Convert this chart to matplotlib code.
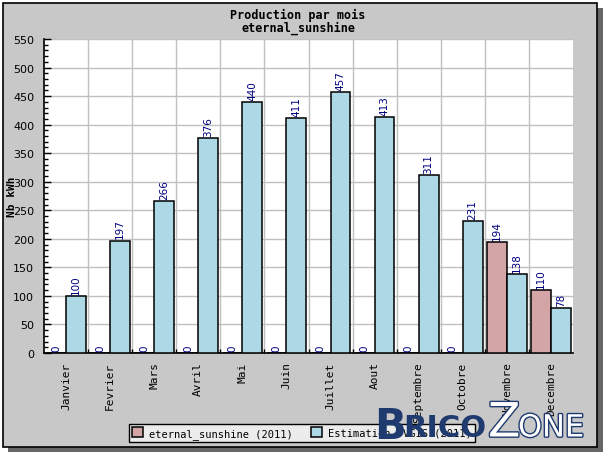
import matplotlib
matplotlib.use("Agg")
import matplotlib.pyplot as plt
import matplotlib.patheffects as pe
from matplotlib.patches import Rectangle
import numpy as np

months = ['Janvier', 'Fevrier', 'Mars', 'Avril', 'Mai', 'Juin', 'Juillet',
          'Aout', 'Septembre', 'Octobre', 'Novembre', 'Decembre']
prod_2011 = [0, 0, 0, 0, 0, 0, 0, 0, 0, 0, 194, 110]
estimation = [100, 197, 266, 376, 440, 411, 457, 413, 311, 231, 138, 78]

W, H = 606, 460
mono = 'DejaVu Sans Mono'


def fx(x):
    return x / W


def fy(y):
    return 1 - y / H


fig = plt.figure(figsize=(W / 100, H / 100), dpi=100, facecolor='white')

# shadow + grey panel
fig.patches.append(Rectangle((fx(8), fy(453)), fx(603) - fx(8), fy(9) - fy(453),
                             transform=fig.transFigure, facecolor='#666666',
                             edgecolor='none', zorder=-2))
fig.patches.append(Rectangle((fx(3), fy(448)), fx(597) - fx(3), fy(4) - fy(448),
                             transform=fig.transFigure, facecolor='#c8c8c8',
                             edgecolor='black', linewidth=1.2, zorder=-1))

ax = fig.add_axes([fx(44), fy(354), fx(573) - fx(44), fy(40) - fy(354)])
ax.set_zorder(1)
ax.set_facecolor('white')

x = np.arange(len(months))
bw = 0.45
b1 = ax.bar(x - bw / 2, prod_2011, bw, color='#d4a5a6', edgecolor='black',
            linewidth=1.1, zorder=3, label='eternal_sunshine (2011)')
b2 = ax.bar(x + bw / 2, estimation, bw, color='#add8e6', edgecolor='black',
            linewidth=1.1, zorder=3, label='Estimation PVGIS (2011)')

for xi, v in zip(x - bw / 2, prod_2011):
    ax.text(xi, v + 4, str(v), rotation=90, ha='center', va='bottom',
            color='#000080', fontsize=7.5, family='DejaVu Sans', zorder=4)
for xi, v in zip(x + bw / 2, estimation):
    ax.text(xi, v + 4, str(v), rotation=90, ha='center', va='bottom',
            color='#000080', fontsize=7.5, family='DejaVu Sans', zorder=4)

ax.set_xlim(-0.5, 11.5)
ax.set_ylim(0, 550)
ax.set_yticks(np.arange(0, 551, 50))
ax.set_yticks(np.arange(0, 551, 10), minor=True)
ax.set_xticks(x)
ax.set_xticklabels(months, rotation=90, family=mono, fontsize=8)
ax.set_xticks(np.arange(0.5, 11.5, 1), minor=True)
ax.tick_params(axis='x', which='major', length=0, pad=6)
ax.tick_params(axis='x', which='minor', direction='in', length=3, width=1)
ax.tick_params(axis='y', which='major', direction='in', length=5, width=1,
               labelsize=8, pad=7)
ax.tick_params(axis='y', which='minor', direction='in', length=3, width=1)

ax.grid(True, axis='y', which='major', color='#c0c0c0', linewidth=1, zorder=0)
ax.grid(True, axis='x', which='minor', color='#c0c0c0', linewidth=1, zorder=0)
ax.set_axisbelow(True)
for s in ['top', 'right']:
    ax.spines[s].set_visible(False)
for s in ['left', 'bottom']:
    ax.spines[s].set_linewidth(1.2)

fig.text(fx(12), fy(197), 'Nb kWh', rotation=90, ha='center', va='center',
         fontsize=8, fontweight='bold', family=mono)
fig.text(fx(298), fy(15), 'Production par mois', ha='center', va='center',
         fontsize=8.5, fontweight='bold', family=mono)
fig.text(fx(298), fy(28), 'eternal_sunshine', ha='center', va='center',
         fontsize=8.5, fontweight='bold', family=mono)

leg = fig.legend(handles=[b1, b2], loc='center', ncol=2,
                 bbox_to_anchor=(fx(302), fy(434)), frameon=True,
                 fancybox=False, facecolor='#ececec', edgecolor='black',
                 framealpha=1, prop={'family': mono, 'size': 7.5},
                 handlelength=1.0, handleheight=1.0, columnspacing=1.8,
                 handletextpad=0.6, borderpad=0.3)
leg.get_frame().set_linewidth(1)
leg.set_zorder(2)

# watermark
navy = '#1e3a6e'
wm = dict(family='DejaVu Sans', ha='left', va='center', zorder=5)
fig.text(fx(374), fy(427), 'B', fontsize=30, fontweight='bold', color=navy, **wm)
fig.text(fx(403), fy(429), 'RICO', fontsize=22, fontweight='bold', color=navy, **wm)
fig.text(fx(488), fy(425), 'Z', fontsize=34, color='white',
         path_effects=[pe.withStroke(linewidth=2, foreground=navy)], **wm)
fig.text(fx(518), fy(429), 'ONE', fontsize=22, color='white',
         path_effects=[pe.withStroke(linewidth=2, foreground=navy)], **wm)

fig.savefig('out.png', dpi=100, facecolor='white')
